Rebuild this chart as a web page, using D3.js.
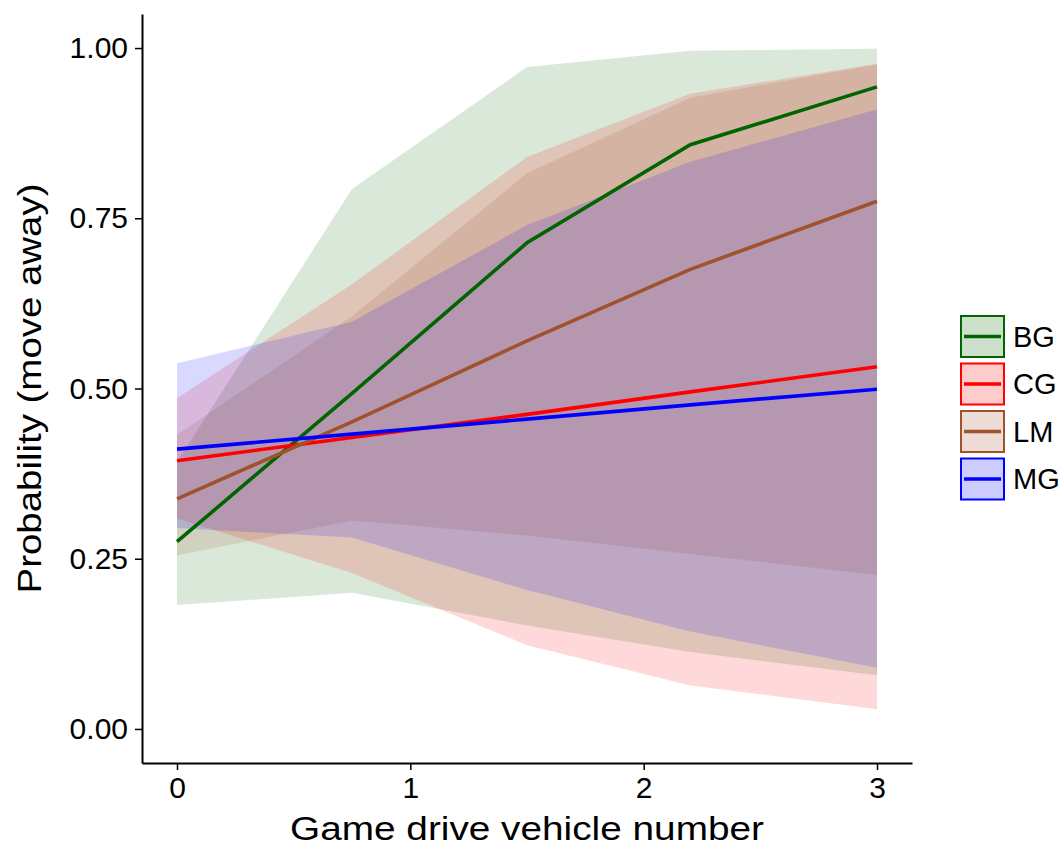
<!DOCTYPE html>
<html>
<head>
<meta charset="utf-8">
<script src="https://cdn.jsdelivr.net/npm/d3@7"></script>
<style>
  html, body { margin: 0; padding: 0; background: #ffffff; }
  svg { display: block; font-family: "Liberation Sans", Arial, sans-serif; }
</style>
</head>
<body>
<svg id="chart" width="1064" height="847"></svg>
<script>
// Predicted probability of moving away vs. number of game drive vehicles,
// with confidence ribbons, per group.
const vehicles = [0, 0.75, 1.5, 2.2, 3];
const groups = ["BG", "CG", "LM", "MG"];
const groupColors = ["#006400", "#FF0000", "#A0522D", "#0000FF"];

const fitBG   = [0.275, 0.493, 0.714, 0.858, 0.943];
const lowerBG = [0.182, 0.200, 0.152, 0.113, 0.079];
const upperBG = [0.392, 0.793, 0.972, 0.996, 0.999];

const fitCG   = [0.394, 0.428, 0.462, 0.495, 0.532];
const lowerCG = [0.309, 0.229, 0.123, 0.064, 0.029];
const upperCG = [0.486, 0.653, 0.840, 0.933, 0.977];

const fitLM   = [0.338, 0.451, 0.570, 0.675, 0.775];
const lowerLM = [0.255, 0.306, 0.284, 0.257, 0.226];
const upperLM = [0.432, 0.606, 0.816, 0.927, 0.976];

const fitMG   = [0.411, 0.433, 0.455, 0.476, 0.499];
const lowerMG = [0.295, 0.281, 0.204, 0.143, 0.090];
const upperMG = [0.537, 0.598, 0.740, 0.833, 0.910];

const yTicks = [0, 0.25, 0.5, 0.75, 1];
const xTicks = [0, 1, 2, 3];
const xTitle = "Game drive vehicle number";
const yTitle = "Probability (move away)";

const fits = [fitBG, fitCG, fitLM, fitMG];
const lowers = [lowerBG, lowerCG, lowerLM, lowerMG];
const uppers = [upperBG, upperCG, upperLM, upperMG];

const series = groups.map((g, i) => ({
  name: g,
  color: groupColors[i],
  points: vehicles.map((v, j) => ({ x: v, fit: fits[i][j], lo: lowers[i][j], hi: uppers[i][j] }))
}));

const svg = d3.select("#chart");
const panel = { left: 142, right: 912, top: 14, bottom: 763 };

const x = d3.scaleLinear().domain([-0.15, 3.15]).range([panel.left, panel.right]);
const y = d3.scaleLinear().domain([-0.05, 1.05]).range([panel.bottom, panel.top]);

// Confidence ribbons
const area = d3.area()
  .x(d => x(d.x))
  .y0(d => y(d.lo))
  .y1(d => y(d.hi));

svg.append("g").attr("class", "ribbons")
  .selectAll("path")
  .data(series)
  .join("path")
  .attr("d", d => area(d.points))
  .attr("fill", d => d.color)
  .attr("fill-opacity", 0.15)
  .attr("stroke", "none");

// Fitted lines
const line = d3.line()
  .x(d => x(d.x))
  .y(d => y(d.fit));

svg.append("g").attr("class", "lines")
  .selectAll("path")
  .data(series)
  .join("path")
  .attr("d", d => line(d.points))
  .attr("fill", "none")
  .attr("stroke", d => d.color)
  .attr("stroke-width", 3.6);

// Axes
const yAxis = svg.append("g")
  .attr("transform", `translate(${panel.left},0)`)
  .call(d3.axisLeft(y).tickValues(yTicks).tickFormat(d3.format(".2f"))
        .tickSize(7).tickSizeOuter(0).tickPadding(7));

const xAxis = svg.append("g")
  .attr("transform", `translate(0,${panel.bottom})`)
  .call(d3.axisBottom(x).tickValues(xTicks).tickFormat(d3.format("d"))
        .tickSize(7).tickSizeOuter(0).tickPadding(7));

[yAxis, xAxis].forEach(ax => {
  ax.select(".domain").attr("stroke", "#000").attr("stroke-width", 2);
  ax.selectAll(".tick line").attr("stroke", "#000").attr("stroke-width", 1.5);
  ax.selectAll(".tick text")
    .attr("fill", "#000")
    .style("font-size", "30px")
    .style("font-family", "'Liberation Sans', Arial, sans-serif");
});

// Axis titles
svg.append("text")
  .attr("x", (panel.left + panel.right) / 2)
  .attr("y", 840)
  .attr("text-anchor", "middle")
  .attr("textLength", 474)
  .attr("lengthAdjust", "spacingAndGlyphs")
  .style("font-size", "34px")
  .attr("fill", "#000")
  .text(xTitle);

svg.append("text")
  .attr("transform", `translate(41,${(panel.top + panel.bottom) / 2}) rotate(-90)`)
  .attr("text-anchor", "middle")
  .attr("textLength", 410)
  .attr("lengthAdjust", "spacingAndGlyphs")
  .style("font-size", "33px")
  .attr("fill", "#000")
  .text(yTitle);

// Legend
const legend = svg.append("g").attr("transform", "translate(960,315)");
const keyW = 45, keyH = 43, keyStep = 47.5;

const item = legend.selectAll("g")
  .data(series)
  .join("g")
  .attr("transform", (d, i) => `translate(0,${i * keyStep})`);

item.append("rect")
  .attr("x", 1).attr("y", 1)
  .attr("width", keyW - 2).attr("height", keyH - 2)
  .attr("fill", d => d.color)
  .attr("fill-opacity", 0.2)
  .attr("stroke", d => d.color)
  .attr("stroke-width", 2);

item.append("line")
  .attr("x1", 4).attr("x2", keyW - 4)
  .attr("y1", keyH / 2).attr("y2", keyH / 2)
  .attr("stroke", d => d.color)
  .attr("stroke-width", 3.6);

item.append("text")
  .attr("x", keyW + 8)
  .attr("y", keyH / 2)
  .attr("dy", "0.35em")
  .style("font-size", "29px")
  .attr("fill", "#000")
  .text(d => d.name);
</script>
</body>
</html>
